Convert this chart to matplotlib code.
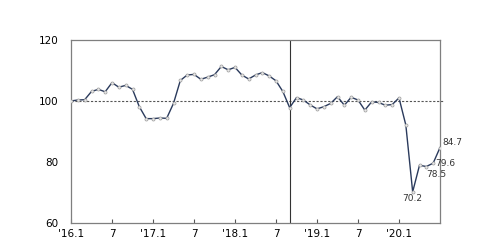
import matplotlib
matplotlib.use("Agg")
import matplotlib.pyplot as plt

# monthly index, Jan 2016 .. Jul 2020
values = [
    100.0, 100.3, 100.4, 103.1, 103.8, 103.0, 106.0, 104.5, 105.1, 103.8,
    98.1, 94.2, 94.2, 94.4, 94.3, 99.2, 106.7, 108.5, 108.7, 107.1,
    107.8, 108.6, 111.3, 110.2, 111.0, 108.5, 107.2, 108.5, 109.3, 108.2,
    106.6, 103.1, 97.8, 101.1, 100.3, 98.7, 97.4, 98.1, 99.2, 101.4,
    98.6, 101.2, 100.3, 97.0, 99.7, 99.5, 98.6, 98.8, 101.0, 92.1,
    70.2, 78.9, 78.5, 79.6, 84.7,
]
tick_pos = [0, 6, 12, 18, 24, 30, 36, 42, 48]
tick_labels = ["'16.1", "7", "'17.1", "7", "'18.1", "7", "'19.1", "7", "'20.1"]
labelled = {50: "70.2", 52: "78.5", 53: "79.6", 54: "84.7"}
split_month = 32


def main():
    fig = plt.figure(figsize=(5, 2.48), dpi=100)
    ax = fig.add_axes([0.142, 0.101, 0.738, 0.738])

    x = list(range(len(values)))
    ax.plot(x, values, color="#2a3a5c", linewidth=1.0, zorder=3,
            marker="o", markersize=2.2, markerfacecolor="#e8e8e8",
            markeredgecolor="#9a9a9a", markeredgewidth=0.5)

    ax.axhline(100, xmin=0, xmax=1.01, color="#555555", linestyle=(0, (2, 1.5)),
               linewidth=0.8, clip_on=False, zorder=2)
    ax.axvline(split_month, color="#333333", linewidth=0.8, zorder=2)

    offsets = {50: (0, -5, "center"), 52: (0, -5.5, "left"), 53: (1.5, -0.5, "left"), 54: (1.5, 3.5, "left")}
    for i, txt in labelled.items():
        dx, dy, ha = offsets[i]
        ax.annotate(txt, (i, values[i]), xytext=(dx, dy), textcoords="offset points",
                    ha=ha, va="center", fontsize=6.5, color="#333333")

    ax.set_xlim(0, 54)
    ax.set_ylim(60, 120)
    ax.set_yticks([60, 80, 100, 120])
    ax.set_xticks(tick_pos)
    ax.set_xticklabels(tick_labels)
    ax.tick_params(axis="x", direction="in", length=3, color="#555555",
                   labelsize=7.5, pad=4)
    ax.tick_params(axis="y", length=0, labelsize=7.5, pad=9)
    for s in ax.spines.values():
        s.set_color("#7f7f7f")
        s.set_linewidth(0.9)

    fig.savefig("out.png", dpi=100)


if __name__ == "__main__":
    main()
